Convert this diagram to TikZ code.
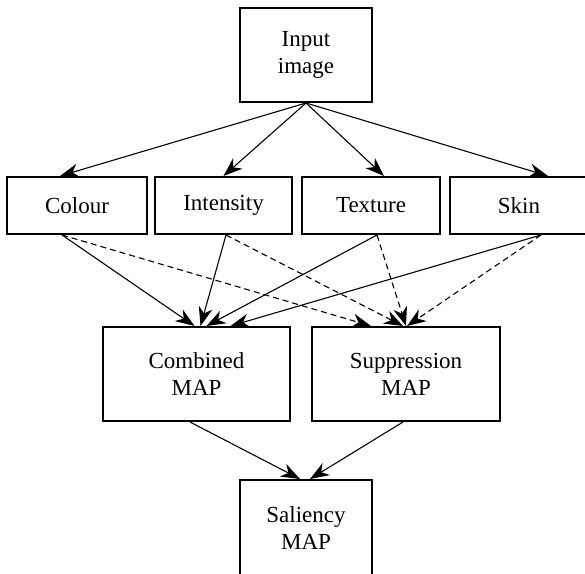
\documentclass[tikz,border=0pt]{standalone}
\usepackage{fontspec}
\setmainfont{Liberation Serif}
\newfontfamily\labelfont{Liberation Serif}
\usetikzlibrary{arrows.meta,calc}
\begin{document}
\begin{tikzpicture}[x=0.5pt,y=-0.5pt,
  box/.style={draw,line width=1pt,align=center,inner sep=0pt,
    font=\labelfont\fontsize{11.5}{13.5}\selectfont},
  link/.style={line width=0.55pt,-{Stealth[length=9.5pt,width=7pt,inset=3pt]}},
  dlink/.style={link,dash pattern=on 3pt off 2pt}]
\useasboundingbox(0,0)rectangle(585,574);
\node[box,minimum width=66pt,minimum height=47pt](input)at(306,55){Input\\image};
\node[box,minimum width=70pt,minimum height=28.5pt](colour)at(77,205.5){Colour};
\node[box,minimum width=68.5pt,minimum height=28.5pt](intensity)at(223.5,205.5){Intensity};
\node[box,minimum width=69pt,minimum height=28.5pt](texture)at(371,205.5){Texture};
\node[box,minimum width=69pt,minimum height=28.5pt](skin)at(519,205.5){Skin};
\node[box,minimum width=93.5pt,minimum height=47pt](combined)at(196.5,374){Combined\\MAP};
\node[box,minimum width=94pt,minimum height=47pt](suppression)at(406,374){Suppression\\MAP};
\node[box,minimum width=66pt,minimum height=48pt](saliency)at(306,528){Saliency\\MAP};
% input to the four channels
\draw[link](input.south)--($(colour.north)+(-17,0)$);
\draw[link](input.south)--($(intensity.north)+(0,0)$);
\draw[link](input.south)--($(texture.north)+(13,0)$);
\draw[link](input.south)--($(skin.north)+(29,0)$);
% channels to combined map
\draw[link]($(colour.south)+(-15,0)$)--($(combined.north)+(-2,0)$);
\draw[link]($(intensity.south)+(2.5,0)$)--($(combined.north)+(4,0)$);
\draw[link]($(texture.south)+(6,0)$)--($(combined.north)+(10,0)$);
\draw[link]($(skin.south)+(22,0)$)--($(combined.north)+(34,0)$);
% channels to suppression map
\draw[dlink]($(colour.south)+(-15,0)$)--($(suppression.north)+(-35,0)$);
\draw[dlink]($(intensity.south)+(2.5,0)$)--($(suppression.north)+(-3,0)$);
\draw[dlink]($(texture.south)+(6,0)$)--($(suppression.north)+(0,0)$);
\draw[dlink]($(skin.south)+(22,0)$)--($(suppression.north)+(1,0)$);
% maps to saliency
\draw[link]($(combined.south)+(-6.5,0)$)--($(saliency.north)+(-6,0)$);
\draw[link]($(suppression.south)+(-3,0)$)--($(saliency.north)+(4,0)$);
\end{tikzpicture}
\end{document}
